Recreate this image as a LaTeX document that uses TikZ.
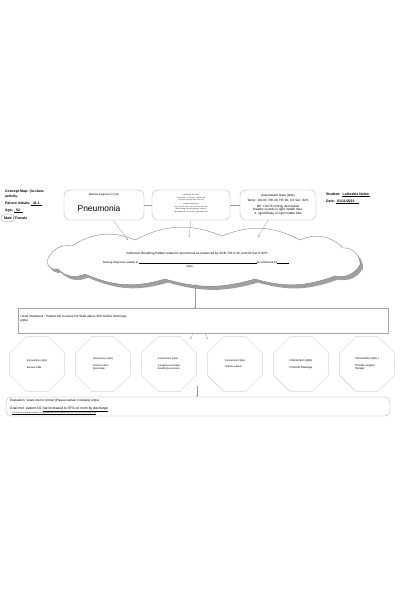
\documentclass[tikz,border=0pt]{standalone}
\usepackage{fontspec}
\setmainfont{Liberation Sans}
\usetikzlibrary{positioning,shapes.geometric,arrows.meta}

% outline of the nursing diagnosis cloud (picture units)
\newcommand{\cloudoutline}{(47,262) to[bend left=45] (72,246) to[bend left=28] (135,240)
    to[bend left=25] (222,236) to[bend left=25] (300,240) to[bend left=35] (343,248)
    to[bend left=50] (360,265) to[bend left=35] (335,276) to[bend left=18] (255,279)
    to[bend left=16] (165,279) to[bend left=20] (85,274) to[bend left=35] (58,269)
    to[bend left=50] (47,262)}

\begin{document}
\begin{tikzpicture}[
        x=0.05cm, y=-0.05cm,
        node distance=3.3cm,
        infobox/.style={draw=gray!70, rounded corners=0.3cm, inner sep=0pt},
        plainbox/.style={draw=gray!70, inner sep=0pt},
        octbox/.style={regular polygon, regular polygon sides=8, draw=gray!60, minimum size=2.95cm, inner sep=1pt, align=left, font=\fontsize{3.6}{4.4}\selectfont},
        head/.style={font=\bfseries\fontsize{5}{6}\selectfont, inner sep=0pt},
        small/.style={font=\fontsize{4.4}{5.4}\selectfont, inner sep=0pt},
        conn/.style={gray!80, thin, -{Straight Barb[length=2pt,width=3pt]}},
        link/.style={gray!80, thin}
    ]
        \useasboundingbox (0,0) rectangle (400,600);
        \fill[white] (0,0) rectangle (400,600);

        % Header
        \node[head, anchor=west] (title1) at (5,192) {Concept Map: (In-class};
        \node[head, anchor=west] (title2) at (5,196.5) {activity.};
        \node[head, anchor=west] (initials) at (5,204) {Patient Initials: \underline{\ \ M.J.\ \ }};
        \node[head, anchor=west] (age) at (5,211) {Age: \underline{\ \ 52\ \ \ }};
        \node[head, anchor=west] (male) at (4,218) {Male};
        \node[head, right=0pt of male] (female) {\ / Female};
        \draw[gray!80] (male.center) ellipse (0.36cm and 0.2cm);
        \node[head, anchor=west] (student) at (326,195) {Student: \underline{\ LaKeshia Nolan\ }};
        \node[head, anchor=west] (date) at (326,202) {Date: \underline{\ 01/11/2023\ \ \ \ \ }};

        % Top boxes
        \node[infobox, minimum width=4cm, minimum height=1.5cm] (meddx) at (104,205) {};
        \node[small, font=\fontsize{3.8}{4.6}\selectfont] (medlabel) at (104,195) {Medical Diagnosis (2 pts)};
        \node[font=\fontsize{12}{14}\selectfont, inner sep=0pt] (pneu) at (99,208) {Pneumonia};

        \node[infobox, minimum width=3.9cm, minimum height=1.5cm] (data) at (191,205) {};
        \node[font=\fontsize{2.2}{3.4}\selectfont, text width=2.3cm, align=center, inner sep=0pt] (datatext) at (191,203.5)
            {1 Subjective data (2pts)\\Patient states, ``I am short of breath'' and ``my chest hurts right side'' Pain 5/10\\[3pt]
             1 Objective data (2pts)\\Temp: 101.6F, RR 26, HR 90, O2 Sat 92\%, BP: 132/78 mmHg, decreased breathe sounds in right middle lobe, 3+ rhonchi in right middle lobe};

        \node[infobox, minimum width=3.8cm, minimum height=1.5cm] (assess) at (278,205) {};
        \node[small, text width=3.5cm, align=center] (assesstext) at (278,205)
            {Assessment Data (2pts)\\[1.5pt]Temp: 101.6F, RR 26, HR 90, O2 Sat: 92\%\\[2pt]
             BP: 132/78 mmHg, decreased breathe sounds in right middle lobe, 3, rap/infiltrate in right middle lobe};

        \draw[link] (meddx) -- (data);
        \draw[link] (data) -- (assess);

        % Nursing diagnosis cloud
        \fill[gray!75, xshift=0.15cm, yshift=-0.18cm] \cloudoutline -- cycle;
        \filldraw[fill=white, draw=gray!80!black] \cloudoutline -- cycle;
        \node[small] (dxtext) at (197,254) {Ineffective Breathing Pattern related to pneumonia as evidenced by SOB, RR of 26, and O2 Sat of 92\%};
        \node[small, font=\fontsize{4}{5}\selectfont] (dxline) at (196,262.5) {Nursing Diagnosis related to:\rule[-0.3pt]{5.9cm}{0.2pt}as evidenced by\rule[-0.3pt]{0.6cm}{0.2pt}};
        \node[small, font=\fontsize{3.8}{4.6}\selectfont] (dxpts) at (190,266.5) {(6pts)};

        \coordinate (c1) at (128,240);
        \coordinate (c2) at (189,237);
        \coordinate (c3) at (258,237);
        \draw[conn] ([xshift=0.45cm]meddx.south) -- (c1);
        \draw[conn] (data.south) -- (c2);
        \draw[conn] ([xshift=-0.5cm]assess.south) -- (c3);

        % Goal
        \node[plainbox, minimum width=18.5cm, minimum height=1.25cm] (goal) at (203,321) {};
        \node[small, anchor=west, align=left] (goaltext) at (20,319) {I Goal Statement : Patient will increase O2 Stats above 95\% before discharge\\(2pts)};
        \coordinate (cg) at (195,284);
        \draw[conn] (cg) -- (cg |- goal.north);

        % Interventions
        \node[octbox] (int1) at (37,364) {Intervention (2pts)\\[5pt]Elevate HOB};
        \node[octbox, right of=int1] (int2) {Intervention (2pts)\\[5pt]Oral Incentive\\Spirometer};
        \node[octbox, right of=int2] (int3) {Intervention (2pts)\\[5pt]Coughing and deep\\breathing exercises};
        \node[octbox, right of=int3] (int4) {Intervention (2pts)\\[5pt]Hydrate patient};
        \node[octbox, right of=int4, font=\fontsize{4}{4.8}\selectfont] (int5) {Intervention (2pts)\\[5pt]Postural Drainage};
        \node[octbox, right of=int5, font=\fontsize{4}{4.8}\selectfont] (int6) {Intervention (2pts )\\[5pt]Provide oxygen\\therapy};

        \coordinate (g3) at (190,339);
        \coordinate (g4) at (208,339);
        \draw[conn] ([xshift=-0.5cm]goal.south) -- (g3);
        \draw[conn] ([xshift=0.1cm]goal.south) -- (g4);

        % Evaluation
        \node[infobox, rounded corners=0.25cm, minimum width=19.2cm, minimum height=0.95cm] (eval) at (198,406.5) {};
        \node[small, anchor=west] (evalq) at (10,401) {Evaluation: Goals met or Unmet (Please explain in details) (2pts)};
        \node[small, anchor=west, font=\fontsize{4.8}{5.6}\selectfont] (evala) at (10,409.5) {Goal met: patient O2 \underline{Sat increased to 97\% on room by discharge}};
        \node[anchor=west, inner sep=0pt, font=\fontsize{2.3}{2.8}\selectfont] (wm) at (12,413.6) {\underline{This study source was downloaded by 100000850880286 from CourseHero.com on 04-11-2023 10:10:41 GMT -05:00}};
        \coordinate (ev) at (197,386);
        \draw[conn] (ev) -- (ev |- eval.north);
    \end{tikzpicture}
\end{document}
